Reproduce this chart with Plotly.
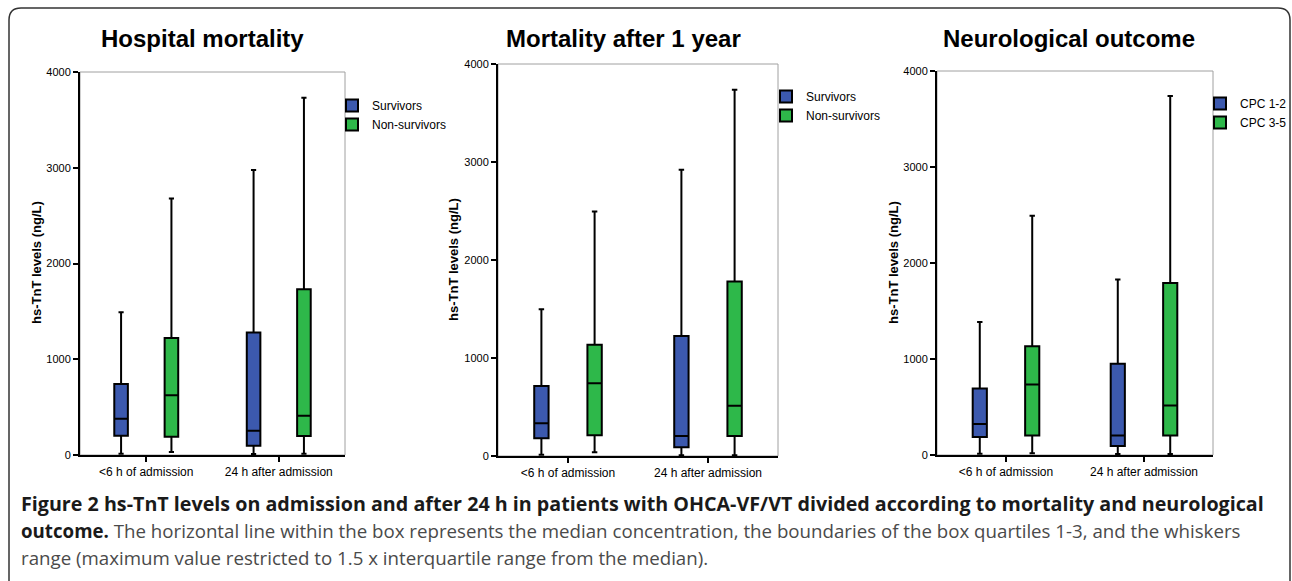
import plotly.graph_objects as go

W, H = 1292, 581

categories = ["<6 h of admission", "24 h after admission"]
panel_titles = ["Hospital mortality", "Mortality after 1 year", "Neurological outcome"]
group_names = [["Survivors", "Non-survivors"],
               ["Survivors", "Non-survivors"],
               ["CPC 1-2", "CPC 3-5"]]

# Panel 1: Hospital mortality (values per category)
hosp_surv_low = [14, 10]
hosp_surv_q1 = [202, 97]
hosp_surv_med = [379, 254]
hosp_surv_q3 = [741, 1280]
hosp_surv_high = [1492, 2977]

hosp_non_low = [31, 14]
hosp_non_q1 = [191, 198]
hosp_non_med = [623, 410]
hosp_non_q3 = [1221, 1732]
hosp_non_high = [2678, 3732]

# Panel 2: Mortality after 1 year
year_surv_low = [14, 7]
year_surv_q1 = [180, 89]
year_surv_med = [334, 204]
year_surv_q3 = [715, 1225]
year_surv_high = [1498, 2921]

year_non_low = [37, 7]
year_non_q1 = [211, 204]
year_non_med = [742, 514]
year_non_q3 = [1134, 1780]
year_non_high = [2495, 3738]

# Panel 3: Neurological outcome
cpc12_low = [14, 10]
cpc12_q1 = [187, 94]
cpc12_med = [322, 204]
cpc12_q3 = [693, 950]
cpc12_high = [1386, 1827]

cpc35_low = [17, 10]
cpc35_q1 = [204, 204]
cpc35_med = [735, 516]
cpc35_q3 = [1133, 1792]
cpc35_high = [2492, 3740]

y_ticks = [0, 1000, 2000, 3000, 4000]
y_title = "hs-TnT levels (ng/L)"

caption_1 = "<b>Figure 2 hs-TnT levels on admission and after 24 h in patients with OHCA-VF/VT divided according to mortality and neurological</b>"
caption_2 = "<b>outcome.</b> <span style='color:#4a4a4a'>The horizontal line within the box represents the median concentration, the boundaries of the box quartiles 1-3, and the whiskers</span>"
caption_3 = "<span style='color:#4a4a4a'>range (maximum value restricted to 1.5 x interquartile range from the median).</span>"

BLUE = "#3c59ae"
GREEN = "#2eb84a"

panels = [
    [(hosp_surv_low, hosp_surv_q1, hosp_surv_med, hosp_surv_q3, hosp_surv_high),
     (hosp_non_low, hosp_non_q1, hosp_non_med, hosp_non_q3, hosp_non_high)],
    [(year_surv_low, year_surv_q1, year_surv_med, year_surv_q3, year_surv_high),
     (year_non_low, year_non_q1, year_non_med, year_non_q3, year_non_high)],
    [(cpc12_low, cpc12_q1, cpc12_med, cpc12_q3, cpc12_high),
     (cpc35_low, cpc35_q1, cpc35_med, cpc35_q3, cpc35_high)],
]

# layout geometry in pixels: (left, right, top, bottom)
plot_px = [(80, 345, 72, 455), (498, 778, 64, 456), (937, 1213, 71, 455)]
title_px = [(202, 38), (623, 38), (1069, 38)]
ytitle_px = [(36, 263), (453, 260), (893, 263)]
legend_px = [(332, 91), (766, 82), (1200, 89)]


def px_x(v):
    return v / W


def px_y(v):
    return 1 - v / H


NARROW = "Liberation Sans Narrow, Liberation Sans, Arial, sans-serif"
ARIAL = "Liberation Sans, Arial, sans-serif"

fig = go.Figure()
for i, panel in enumerate(panels):
    sfx = "" if i == 0 else str(i + 1)
    for j, (low, q1, med, q3, high) in enumerate(panel):
        fig.add_trace(go.Box(
            x=categories, lowerfence=low, q1=q1, median=med, q3=q3, upperfence=high,
            name=group_names[i][j],
            fillcolor=BLUE if j == 0 else GREEN,
            line=dict(color="black", width=2),
            whiskerwidth=0.38,
            boxpoints=False,
            hoverinfo="skip",
            offsetgroup=str(j), alignmentgroup="panel" + str(i),
            xaxis="x" + sfx, yaxis="y" + sfx,
            legend="legend" + sfx,
        ))

layout = dict(
    width=W, height=H,
    margin=dict(l=0, r=0, t=0, b=0, autoexpand=False),
    paper_bgcolor="white",
    plot_bgcolor="rgba(0,0,0,0)",
    boxmode="group",
    boxgap=0.24,
    boxgroupgap=0.73,
    annotations=[],
    shapes=[],
)

for i in range(3):
    sfx = "" if i == 0 else str(i + 1)
    l, r, t, b = plot_px[i]
    layout["xaxis" + sfx] = dict(
        domain=[px_x(l), px_x(r)], anchor="y" + sfx,
        type="category", categoryorder="array", categoryarray=categories,
        range=[-0.5, 1.5], automargin=False,
        showline=True, linecolor="black", linewidth=2,
        ticks="outside", ticklen=5, tickwidth=2, tickcolor="black",
        tickfont=dict(family=NARROW, size=12, color="black"),
        showgrid=False, zeroline=False, fixedrange=True,
    )
    layout["yaxis" + sfx] = dict(
        domain=[px_y(b), px_y(t)], anchor="x" + sfx,
        range=[0, 4000], tickvals=y_ticks, automargin=False,
        showline=True, linecolor="black", linewidth=2,
        ticks="outside", ticklen=5, tickwidth=2, tickcolor="black",
        tickfont=dict(family=NARROW, size=11, color="black"),
        showgrid=False, zeroline=False, fixedrange=True,
    )
    # light frame around plot area (top & right)
    layout["shapes"].append(dict(
        type="rect", xref="x" + sfx + " domain", yref="y" + sfx + " domain",
        x0=0, x1=1, y0=0, y1=1, line=dict(color="#a0a0a0", width=1), layer="below",
    ))
    tx, ty = title_px[i]
    layout["annotations"].append(dict(
        text="<b>" + panel_titles[i] + "</b>", x=px_x(tx), y=px_y(ty),
        xref="paper", yref="paper", showarrow=False, xanchor="center", yanchor="middle",
        font=dict(family=ARIAL, size=24, color="black"),
    ))
    yx, yy = ytitle_px[i]
    layout["annotations"].append(dict(
        text="<b>" + y_title + "</b>", x=px_x(yx), y=px_y(yy), textangle=-90,
        xref="paper", yref="paper", showarrow=False, xanchor="center", yanchor="middle",
        font=dict(family=ARIAL, size=13, color="black"),
    ))
    lx, ly = legend_px[i]
    layout["legend" + sfx] = dict(
        x=px_x(lx), y=px_y(ly), xanchor="left", yanchor="top",
        xref="paper", yref="paper",
        bgcolor="rgba(0,0,0,0)", borderwidth=0,
        font=dict(family=NARROW, size=12, color="black"),
        tracegroupgap=0, itemwidth=30,
    )

# caption
for txt, yy, fs in [(caption_1, 503, 19.7), (caption_2, 530, 18.7), (caption_3, 557, 18.7)]:
    layout["annotations"].append(dict(
        text=txt, x=px_x(19), y=px_y(yy), xref="paper", yref="paper",
        showarrow=False, xanchor="left", yanchor="middle", align="left",
        font=dict(family="Open Sans, sans-serif", size=fs, color="#1a1a1a"),
    ))

# outer rounded frame
x0, x1, y0, rr = 9, 1290, 8, 12
path = (f"M {px_x(x0)},{px_y(H + 5)} L {px_x(x0)},{px_y(y0 + rr)} "
        f"Q {px_x(x0)},{px_y(y0)} {px_x(x0 + rr)},{px_y(y0)} "
        f"L {px_x(x1 - rr)},{px_y(y0)} Q {px_x(x1)},{px_y(y0)} {px_x(x1)},{px_y(y0 + rr)} "
        f"L {px_x(x1)},{px_y(H + 5)}")
layout["shapes"].append(dict(type="path", xref="paper", yref="paper", path=path,
                             line=dict(color="#333", width=1.5)))

fig.update_layout(**layout)
fig.write_html("out.html",
               config={"displayModeBar": False},
               post_script="document.body.style.margin='0';document.body.style.overflow='hidden';")
